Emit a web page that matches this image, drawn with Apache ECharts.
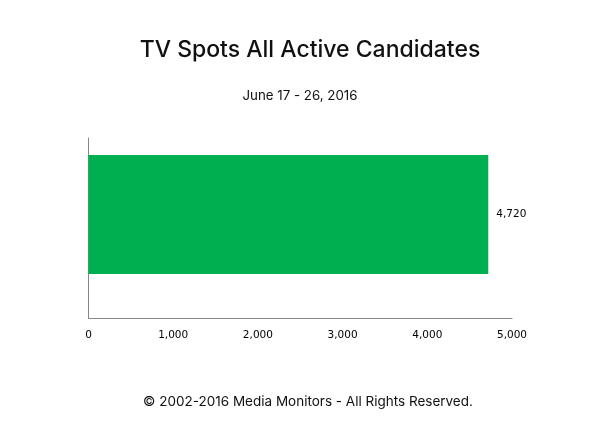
<!DOCTYPE html>
<html><head><meta charset="utf-8">
<script src="https://cdn.jsdelivr.net/npm/echarts@6/dist/echarts.min.js"></script>
<style>html,body{margin:0;padding:0;background:#fff}#c{width:606px;height:428px}</style>
</head><body><div id="c"></div>
<script>
var categories = ['All Active Candidates'];
var spots = [4720];
var xTicks = [0, 1000, 2000, 3000, 4000, 5000];
var titleText = 'TV Spots All Active Candidates';
var subtitleText = 'June 17 - 26, 2016';
var footerText = '\u00A9 2002-2016 Media Monitors - All Rights Reserved.';

function commas(v){ return String(v).replace(/\B(?=(\d{3})+(?!\d))/g, ','); }

var chart = echarts.init(document.getElementById('c'), null, {renderer:'canvas'});
var head = 'Inter, Lato, sans-serif';
var tick = 'DejaVu Sans';
chart.setOption({
  animation: false,
  backgroundColor: '#fff',
  graphic: [
    {type:'text', x:310, y:50, style:{text:titleText, font:'500 23px '+head, fill:'#111', align:'center', verticalAlign:'middle', textAlign:'center', textVerticalAlign:'middle'}},
    {type:'text', x:300, y:96, style:{text:subtitleText, font:'13.3px '+head, fill:'#111', align:'center', verticalAlign:'middle', textAlign:'center', textVerticalAlign:'middle'}},
    {type:'text', x:308, y:402, style:{text:footerText, font:'13.5px '+head, fill:'#111', align:'center', verticalAlign:'middle', textAlign:'center', textVerticalAlign:'middle'}}
  ],
  grid: {left: 88.5, right: 94, top: 138, bottom: 110, containLabel: false},
  xAxis: {
    type: 'value', min: xTicks[0], max: xTicks[xTicks.length-1], interval: xTicks[1]-xTicks[0],
    axisLine: {show: true, lineStyle: {color: '#868686', width: 1}},
    axisTick: {show: false},
    splitLine: {show: false},
    axisLabel: {margin: 12, color: '#000', fontFamily: tick, fontSize: 10.5, formatter: function(v){return commas(v);}}
  },
  yAxis: {
    type: 'category', data: categories,
    axisLine: {show: true, lineStyle: {color: '#868686', width: 1}},
    axisTick: {show: false},
    axisLabel: {show: false}
  },
  series: [
    {type:'bar', data: spots, barWidth: 119, barGap: '0%', itemStyle:{color:'#00B050'},
     label:{show:true, position:'right', distance:8, color:'#000', fontFamily: tick, fontSize:10.5, formatter:function(p){return commas(p.value);}}},
    {type:'bar', data: [0], barWidth: 27, barGap: '0%', silent: true, itemStyle:{color:'transparent'}}
  ]
});
</script>
</body></html>
